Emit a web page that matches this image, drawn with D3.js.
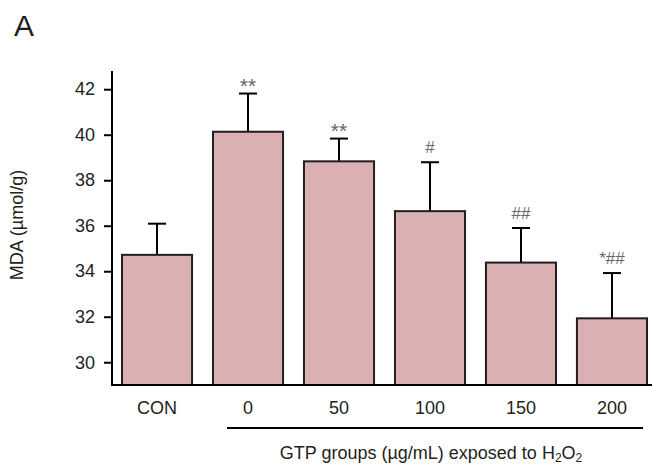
<!DOCTYPE html>
<meta charset="utf-8">
<style>
body { margin: 0; background: #fff; }
text { font-family: "Liberation Sans", Arial, sans-serif; fill: #231f20; }
.bar { fill: #dbb0b2; stroke: #231f20; stroke-width: 2px; }
.err line { stroke: #000; stroke-width: 2px; }
.axis path, .axis line { stroke: #000; stroke-width: 2px; }
.note { fill: #666; }
</style>
<svg width="652" height="466"></svg>
<script src="https://cdn.jsdelivr.net/npm/d3@7"></script>
<script>

var groups = ["CON", "0", "50", "100", "150", "200"];
var means  = [34.72, 40.13, 38.83, 36.64, 34.38, 31.93];
var errs   = [1.37, 1.68, 1.0, 2.15, 1.52, 1.99];
var notes  = ["", "**", "**", "#", "##", "*##"];
var yTicks = [30, 32, 34, 36, 38, 40, 42];

var data = groups.map(function(g, i) {
  return {g: g, m: means[i], e: errs[i], note: notes[i]};
});

var svg = d3.select("svg");

var x = d3.scaleBand().domain(groups).range([122, 647]).paddingInner(0.23).paddingOuter(0);
var y = d3.scaleLinear().domain([29, 42.8]).range([385, 71]);

// panel letter
svg.append("text").attr("x", 14).attr("y", 36)
    .style("font-size", "30px").text("A");

// error bars (upward only)
var err = svg.append("g").attr("class", "err")
  .selectAll("g").data(data).enter().append("g");
err.append("line")
    .attr("x1", function(d) { return x(d.g) + x.bandwidth()/2; })
    .attr("x2", function(d) { return x(d.g) + x.bandwidth()/2; })
    .attr("y1", function(d) { return y(d.m); })
    .attr("y2", function(d) { return y(d.m + d.e); });
err.append("line")
    .attr("x1", function(d) { return x(d.g) + x.bandwidth()/2 - 9; })
    .attr("x2", function(d) { return x(d.g) + x.bandwidth()/2 + 9; })
    .attr("y1", function(d) { return y(d.m + d.e); })
    .attr("y2", function(d) { return y(d.m + d.e); });

// bars
svg.append("g").selectAll("rect").data(data).enter().append("rect")
    .attr("class", "bar")
    .attr("x", function(d) { return x(d.g); })
    .attr("width", x.bandwidth())
    .attr("y", function(d) { return y(d.m); })
    .attr("height", function(d) { return y(29) - y(d.m); });

// significance marks; plain "**" is set bigger and lower than the hash marks
svg.append("g").selectAll("text").data(data).enter().append("text")
    .attr("class", "note")
    .attr("text-anchor", "middle")
    .attr("x", function(d) { return x(d.g) + x.bandwidth()/2; })
    .attr("y", function(d) {
      return d.note == "**" ? y(d.m + d.e) - 1 : y(d.m + d.e) - 9.5;
    })
    .style("font-size", function(d) { return d.note == "**" ? "21px" : "17px"; })
    .text(function(d) { return d.note; });

// y axis
var yAxis = svg.append("g").attr("class", "axis")
    .attr("transform", "translate(112,0)")
    .call(d3.axisLeft(y).tickValues(yTicks).tickSize(8).tickPadding(9).tickSizeOuter(0));
yAxis.select(".domain").remove();
yAxis.append("line").attr("x1", 0).attr("x2", 0).attr("y1", 71).attr("y2", 386);
yAxis.selectAll("text").style("font-size", "18px").style("fill", "#231f20");

// x axis baseline
svg.append("line").attr("x1", 111).attr("x2", 652).attr("y1", 385).attr("y2", 385)
    .style("stroke", "#000").style("stroke-width", "2px");

// group labels
svg.append("g").selectAll("text").data(groups).enter().append("text")
    .attr("text-anchor", "middle")
    .attr("x", function(g) { return x(g) + x.bandwidth()/2; })
    .attr("y", 414)
    .style("font-size", "18px")
    .text(function(g) { return g; });

// bracket under dose groups
svg.append("line").attr("x1", 227).attr("x2", 643).attr("y1", 428).attr("y2", 428)
    .style("stroke", "#000").style("stroke-width", "2px");

var gt = svg.append("text").attr("text-anchor", "middle")
    .attr("x", 431).attr("y", 459).style("font-size", "18px");
gt.append("tspan").text("GTP groups (\u00b5g/mL) exposed to H");
gt.append("tspan").attr("dy", 3).style("font-size", "12px").text("2");
gt.append("tspan").attr("dy", -3).text("O");
gt.append("tspan").attr("dy", 3).style("font-size", "12px").text("2");

// y label
svg.append("text")
    .attr("transform", "translate(23,225) rotate(-90)")
    .attr("text-anchor", "middle")
    .style("font-size", "18px")
    .text("MDA (\u00b5mol/g)");

</script>
